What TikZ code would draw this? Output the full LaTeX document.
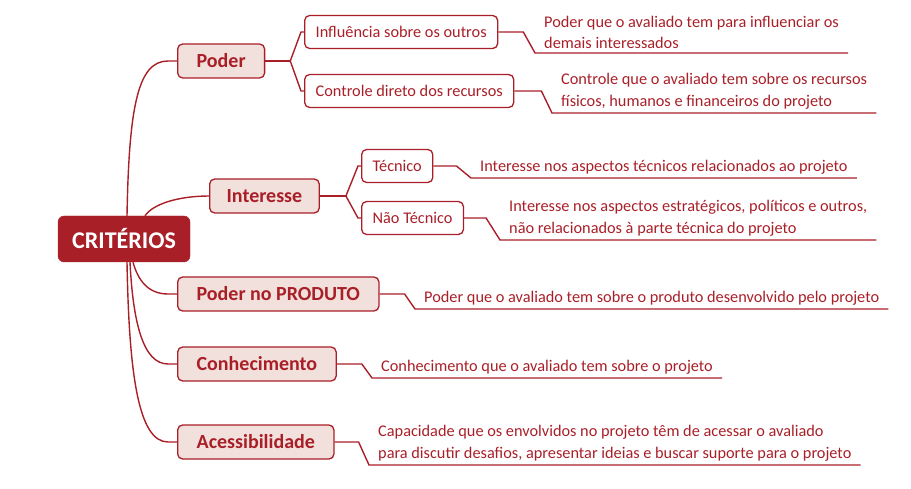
\documentclass[tikz,border=0pt]{standalone}
\usepackage{fontspec}
\setmainfont{Carlito}
\usetikzlibrary{positioning}
\definecolor{vinho}{RGB}{169,31,40}
\definecolor{rosa}{RGB}{242,224,220}

\begin{document}
\begin{tikzpicture}[x=1pt, y=-1pt,
    raiz/.style={draw=vinho, fill=vinho, rounded corners=6pt, text=white, font=\fontsize{24}{28}\selectfont\bfseries, minimum width=132pt, minimum height=46pt},
    crit/.style={draw=vinho, line width=1.3pt, fill=rosa, rounded corners=5pt, text=vinho, font=\fontsize{20}{24}\selectfont\bfseries, minimum height=34pt, inner xsep=19pt, anchor=west},
    sub/.style={draw=vinho, line width=1.3pt, fill=white, rounded corners=5pt, text=vinho, font=\fontsize{16.3}{19}\selectfont, minimum height=33pt, inner xsep=11pt, anchor=west},
    desc/.style={text=vinho, font=\fontsize{16.3}{21.5}\selectfont, align=left, anchor=south west, inner xsep=9pt, inner ysep=4pt},
    liga/.style={draw=vinho, line width=1.4pt}]

    \useasboundingbox (0,0) rectangle (911,489);

    % raiz e criterios
    \node[raiz] (criterios) at (124,239) {CRITÉRIOS};
    \node[crit] (poder) at (177,61) {Poder};
    \node[crit, inner xsep=17pt] (interesse) at (209,196) {Interesse};
    \node[crit] (produto) at (177,294) {Poder no PRODUTO};
    \node[crit] (conhec) at (177,364) {Conhecimento};
    \node[crit] (acesso) at (177,442) {Acessibilidade};

    % subcriterios
    \node[sub] (influencia) at (304,32) {Influência sobre os outros};
    \node[sub] (controle) at (304,91) {Controle direto dos recursos};
    \node[sub] (tecnico) at (361,166) {Técnico};
    \node[sub] (naotecnico) at (361,218) {Não Técnico};

    % descricoes
    \node[desc] (dInfluencia) at (535,53) {Poder que o avaliado tem para influenciar os\\demais interessados};
    \node[desc] (dControle) at (552,113) {Controle que o avaliado tem sobre os recursos\\físicos, humanos e financeiros do projeto};
    \node[desc] (dTecnico) at (471,178) {Interesse nos aspectos técnicos relacionados ao projeto};
    \node[desc] (dNaoTecnico) at (500,240) {Interesse nos aspectos estratégicos, políticos e outros,\\não relacionados à parte técnica do projeto};
    \node[desc] (dProduto) at (415,309) {Poder que o avaliado tem sobre o produto desenvolvido pelo projeto};
    \node[desc] (dConhec) at (372,378) {Conhecimento que o avaliado tem sobre o projeto};
    \node[desc] (dAcesso) at (369,465) {Capacidade que os envolvidos no projeto têm de acessar o avaliado\\para discutir desafios, apresentar ideias e buscar suporte para o projeto};

    % ramos da raiz
    \draw[liga] ([xshift=3pt]criterios.north) .. controls +(2,-110) and +(-30,0) .. ([xshift=-9pt]poder.west) -- (poder.west);
    \draw[liga] ([xshift=21pt]criterios.north) .. controls +(8,-12) and +(-30,0) .. (interesse.west);
    \draw[liga] ([xshift=9pt]criterios.south) .. controls +(5,18) and +(-20,0) .. ([xshift=-9pt]produto.west) -- (produto.west);
    \draw[liga] ([xshift=6pt]criterios.south) .. controls +(3,60) and +(-25,0) .. ([xshift=-9pt]conhec.west) -- (conhec.west);
    \draw[liga] ([xshift=3pt]criterios.south) .. controls +(2,110) and +(-30,0) .. ([xshift=-9pt]acesso.west) -- (acesso.west);

    % bifurcacoes
    \draw[liga] (poder.east) -- ++(25,0) coordinate (fPoder);
    \draw[liga] (fPoder) -- ([xshift=-3pt]influencia.west) -- (influencia.west);
    \draw[liga] (fPoder) -- ([xshift=-3pt]controle.west) -- (controle.west);
    \draw[liga] (interesse.east) -- ++(26,0) coordinate (fInteresse);
    \draw[liga] (fInteresse) -- ([xshift=-3pt]tecnico.west) -- (tecnico.west);
    \draw[liga] (fInteresse) -- ([xshift=-3pt]naotecnico.west) -- (naotecnico.west);

    % ligacoes com as descricoes
    \draw[liga] (influencia.east) -- ++(25,0) -- (dInfluencia.south west) -- (dInfluencia.south east);
    \draw[liga] (controle.east) -- ++(27,0) -- (dControle.south west) -- (dControle.south east);
    \draw[liga] (tecnico.east) -- ++(23,0) -- (dTecnico.south west) -- (dTecnico.south east);
    \draw[liga] (naotecnico.east) -- ++(22,0) -- (dNaoTecnico.south west) -- (dNaoTecnico.south east);
    \draw[liga] (produto.east) -- ++(25,0) -- (dProduto.south west) -- (dProduto.south east);
    \draw[liga] (conhec.east) -- ++(25,0) -- (dConhec.south west) -- (dConhec.south east);
    \draw[liga] (acesso.east) -- ++(24,0) -- (dAcesso.south west) -- (dAcesso.south east);
\end{tikzpicture}
\end{document}
